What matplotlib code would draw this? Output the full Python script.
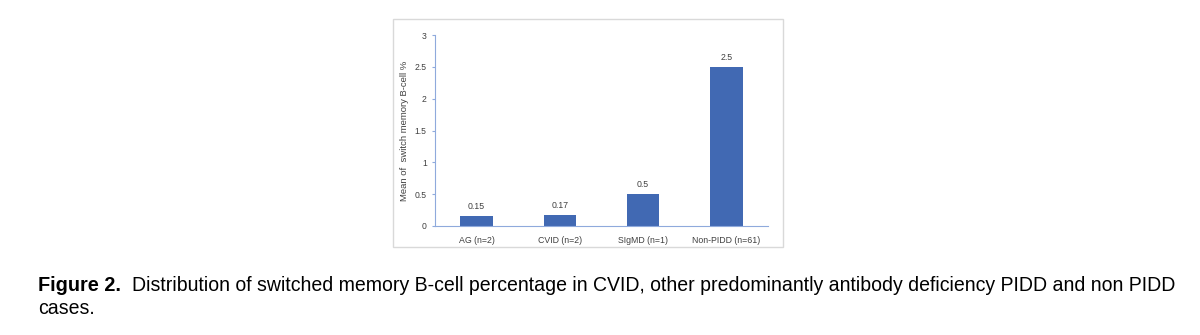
import matplotlib.pyplot as plt
import matplotlib.patches as patches

groups = ['AG (n=2)', 'CVID (n=2)', 'SIgMD (n=1)', 'Non-PIDD (n=61)']
means = [0.15, 0.17, 0.5, 2.5]
value_labels = ['0.15', '0.17', '0.5', '2.5']
yticks = [0, 0.5, 1, 1.5, 2, 2.5, 3]
ytick_labels = ['0', '0.5', '1', '1.5', '2', '2.5', '3']

caption_bold = 'Figure 2.'
caption_line1 = ('Distribution of switched memory B-cell percentage in CVID, '
                 'other predominantly antibody deficiency PIDD and non PIDD')
caption_line2 = 'cases.'

plt.rcParams['font.family'] = ['Liberation Sans', 'DejaVu Sans']

fig = plt.figure(figsize=(12, 3.35), dpi=100)

# light grey frame around the chart picture
fig.patches.append(patches.Rectangle((0.3275, 0.263), 0.325, 0.679,
                                     transform=fig.transFigure, fill=False,
                                     edgecolor='#d9d9d9', linewidth=1))

ax = fig.add_axes([0.3625, 0.3254, 0.2775, 0.570])
x = range(len(groups))
ax.bar(x, means, width=0.39, color='#4169b3')
for xi, v, lab in zip(x, means, value_labels):
    ax.text(xi, v + 0.08, lab, ha='center', va='bottom',
            fontsize=6.3, color='#404040')

ax.set_xlim(-0.5, 3.5)
ax.set_ylim(0, 3)
ax.set_yticks(yticks)
ax.set_yticklabels(ytick_labels)
ax.set_xticks(list(x))
ax.set_xticklabels(groups)
ax.tick_params(axis='y', labelsize=6.2, length=2, width=0.8, color='#8faadc',
               labelcolor='#404040', pad=4)
ax.tick_params(axis='x', labelsize=6.3, length=0, labelcolor='#404040', pad=7)
ax.set_ylabel('Mean of  switch memory B-cell %', fontsize=6.8, color='#404040',
              labelpad=4)

for side in ['top', 'right']:
    ax.spines[side].set_visible(False)
for side in ['left', 'bottom']:
    ax.spines[side].set_color('#8faadc')
    ax.spines[side].set_linewidth(0.8)

base1 = 1 - 291 / 335
fig.text(38 / 1200, base1, caption_bold, fontsize=14.3,
         fontweight='bold', va='baseline', ha='left')
fig.text(132 / 1200, base1, caption_line1, fontsize=14.05,
         va='baseline', ha='left')
fig.text(38 / 1200, 1 - 314 / 335, caption_line2, fontsize=14.05,
         va='baseline', ha='left')

fig.savefig('out.png', dpi=100)
